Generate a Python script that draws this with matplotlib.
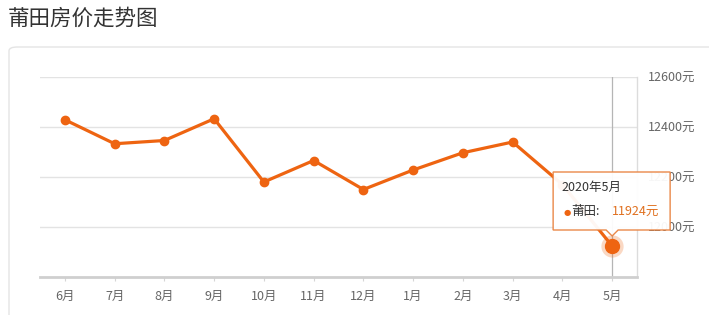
import matplotlib
matplotlib.use("Agg")
import matplotlib.pyplot as plt
from matplotlib.patches import FancyBboxPatch, Polygon
import numpy as np

plt.rcParams['font.family'] = ['Noto Sans CJK SC', 'DejaVu Sans']

# data
months = ['6月', '7月', '8月', '9月', '10月', '11月', '12月', '1月', '2月', '3月', '4月', '5月']
prices = [12429, 12333, 12346, 12433, 12180, 12266, 12150, 12228, 12297, 12340, 12170, 11924]
yticks = [12000, 12200, 12400, 12600]
city = '莆田'
hover_label = '2020年5月'

orange = '#ee6411'
W, H, DPI = 709, 315, 100

fig = plt.figure(figsize=(W / DPI, H / DPI), dpi=DPI)

# title and outer card
fig.text(8 / W, 1 - 19 / H, '莆田房价走势图', fontsize=15.5, color='#333333',
         va='center', ha='left')
card = FancyBboxPatch((9 / W, -0.2), 1.2, 1 - 47 / H + 0.2,
                      boxstyle='round,pad=0,rounding_size=0.012',
                      transform=fig.transFigure, facecolor='none',
                      edgecolor='#e4e4e4', linewidth=1.0)
fig.patches.append(card)

ax = fig.add_axes([40 / W, (H - 277) / H, 597 / W, 200 / H])
x = np.arange(len(months))
ax.set_xlim(-0.5, len(months) - 0.5)
ax.set_ylim(11800, 12600)

for v in yticks:
    ax.axhline(v, color='#e3e3e3', lw=1, zorder=0)

ax.plot(x, prices, color=orange, lw=2.3, marker='o', ms=6, zorder=3,
        solid_joinstyle='round')

# highlighted last point + axis pointer
last = len(prices) - 1
ax.axvline(x[last], color='#b5b5b5', lw=0.9, zorder=1)
ax.plot(x[last], prices[last], 'o', color=orange, ms=16, alpha=0.25, zorder=4,
        markeredgewidth=0)
ax.plot(x[last], prices[last], 'o', color=orange, ms=10, zorder=5)

for s in ['top', 'left']:
    ax.spines[s].set_visible(False)
ax.spines['right'].set_color('#dcdcdc')
ax.spines['right'].set_linewidth(1)
ax.spines['bottom'].set_color('#cfcfcf')
ax.spines['bottom'].set_linewidth(2)

ax.set_xticks(x)
ax.set_xticklabels(months)
ax.tick_params(axis='x', length=3, width=0.8, color='#d5d5d5', labelsize=9,
               labelcolor='#666666', pad=6)
ax.yaxis.tick_right()
ax.set_yticks(yticks)
ax.set_yticklabels([f'{v}元' for v in yticks])
ax.tick_params(axis='y', length=0, labelsize=9, labelcolor='#666666', pad=8)

# tooltip anchored at the last point (pixel offsets, y up)
px, py = ax.transData.transform((x[last], prices[last]))
l, r, b, t = px - 59, px + 58, py + 16, py + 74
tip = py + 10
box = Polygon([(l, b), (px - 6, b), (px, tip), (px + 6, b), (r, b), (r, t), (l, t)],
              closed=True, transform=None, facecolor='white', edgecolor='#e9823f',
              linewidth=1.0, alpha=0.95, zorder=10)
fig.patches.append(box)
fig.text(px - 51, py + 59, hover_label, transform=None, fontsize=9,
         color='#333333', va='center', ha='left', zorder=11)
fig.text(px - 49, py + 34, '●', transform=None, fontsize=6, color=orange,
         va='center', ha='left', zorder=11, family='DejaVu Sans')
fig.text(px - 41, py + 34, city + ':', transform=None, fontsize=9,
         color='#333333', va='center', ha='left', zorder=11)
fig.text(px + 0, py + 34, f'{prices[last]}元', transform=None, fontsize=9,
         color='#e0701f', va='center', ha='left', zorder=11)

fig.savefig('out.png', dpi=DPI)
